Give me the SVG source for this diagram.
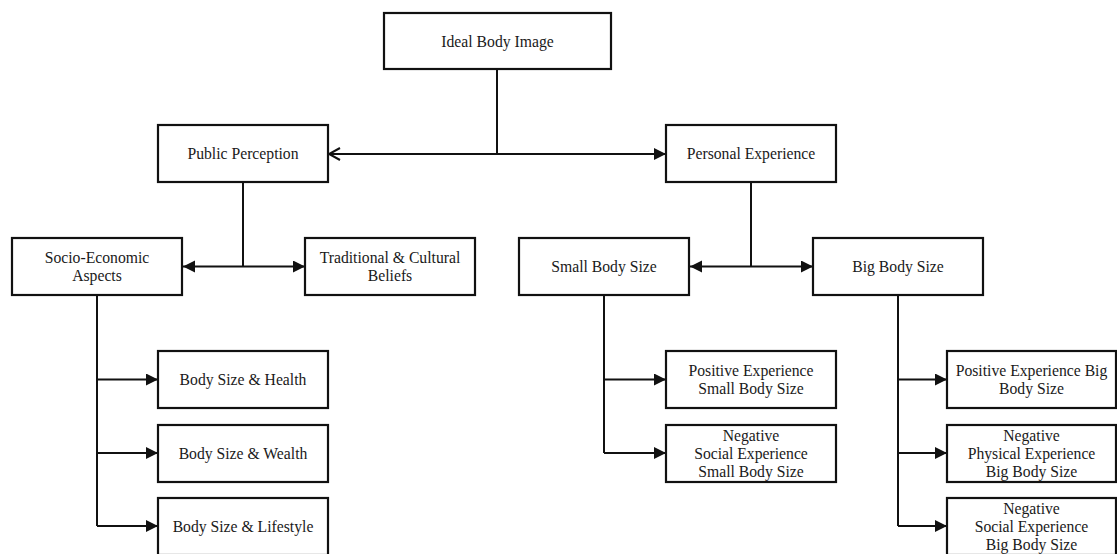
<svg xmlns="http://www.w3.org/2000/svg" width="1117" height="554" viewBox="0 0 1117 554">
<defs>
<style>
.box{fill:#fff;stroke:#111;stroke-width:2.2}
.t{font-family:"Liberation Serif","Times New Roman",serif;font-size:15.7px;fill:#1a1a1a;text-anchor:middle}
.c{fill:none;stroke:#111;stroke-width:2}
.ae{marker-end:url(#fa)}
.ab{marker-end:url(#fa);marker-start:url(#fa)}
</style>
<marker id="fa" markerUnits="userSpaceOnUse" markerWidth="13" markerHeight="13" refX="12" refY="6" orient="auto-start-reverse">
<path d="M0,0 L12,6 L0,12 Z" fill="#111"/>
</marker>
<marker id="oa" markerUnits="userSpaceOnUse" markerWidth="14" markerHeight="14" refX="12" refY="7" orient="auto-start-reverse">
<path d="M1,1 L12,7 L1,13" fill="none" stroke="#111" stroke-width="2"/>
</marker>
</defs>
<rect width="1117" height="554" fill="#fff"/>
<g id="connectors">
<path class="c" d="M497,69 V154"/>
<path class="c" d="M329,154 H666" marker-start="url(#oa)" marker-end="url(#fa)"/>
<path class="c" d="M243,182 V266.5"/>
<path class="c ab" d="M183,266.5 H305"/>
<path class="c" d="M751,182 V266.5"/>
<path class="c ab" d="M690,266.5 H813"/>
<path class="c" d="M97,295 V526"/>
<path class="c ae" d="M97,379.5 H158"/>
<path class="c ae" d="M97,453 H158"/>
<path class="c ae" d="M97,526 H158"/>
<path class="c" d="M604,295 V453"/>
<path class="c ae" d="M604,379.5 H666"/>
<path class="c ae" d="M604,453 H666"/>
<path class="c" d="M898,295 V526"/>
<path class="c ae" d="M898,379.5 H947"/>
<path class="c ae" d="M898,453 H947"/>
<path class="c ae" d="M898,526 H947"/>
</g>
<g id="ideal"><rect class="box" x="384" y="13" width="227" height="56"/><text class="t" x="497.5" y="47">Ideal Body Image</text></g>
<g id="public"><rect class="box" x="158" y="125" width="170" height="57"/><text class="t" x="243" y="159">Public Perception</text></g>
<g id="personal"><rect class="box" x="666" y="125" width="170" height="57"/><text class="t" x="751" y="159">Personal Experience</text></g>
<g id="socio"><rect class="box" x="12" y="238" width="170" height="57"/><text class="t" x="97" y="262.5">Socio-Economic</text><text class="t" x="97" y="281">Aspects</text></g>
<g id="traditional"><rect class="box" x="305" y="238" width="170" height="57"/><text class="t" x="390" y="262.5">Traditional &amp; Cultural</text><text class="t" x="390" y="281">Beliefs</text></g>
<g id="small"><rect class="box" x="519" y="238" width="170" height="57"/><text class="t" x="604" y="272">Small Body Size</text></g>
<g id="big"><rect class="box" x="813" y="238" width="170" height="57"/><text class="t" x="898" y="272">Big Body Size</text></g>
<g id="health"><rect class="box" x="158" y="351" width="170" height="57"/><text class="t" x="243" y="385">Body Size &amp; Health</text></g>
<g id="wealth"><rect class="box" x="158" y="425" width="170" height="57"/><text class="t" x="243" y="458.5">Body Size &amp; Wealth</text></g>
<g id="lifestyle"><rect class="box" x="158" y="498" width="170" height="57"/><text class="t" x="243" y="531.5">Body Size &amp; Lifestyle</text></g>
<g id="pos-small"><rect class="box" x="666" y="351" width="170" height="57"/><text class="t" x="751" y="375.5">Positive Experience</text><text class="t" x="751" y="394">Small Body Size</text></g>
<g id="neg-small"><rect class="box" x="666" y="425" width="170" height="57"/><text class="t" x="751" y="440.5">Negative</text><text class="t" x="751" y="458.8">Social Experience</text><text class="t" x="751" y="477">Small Body Size</text></g>
<g id="pos-big"><rect class="box" x="947" y="351" width="169" height="57"/><text class="t" x="1031.5" y="375.5">Positive Experience Big</text><text class="t" x="1031.5" y="394">Body Size</text></g>
<g id="neg-phys-big"><rect class="box" x="947" y="425" width="169" height="57"/><text class="t" x="1031.5" y="440.5">Negative</text><text class="t" x="1031.5" y="458.8">Physical Experience</text><text class="t" x="1031.5" y="477">Big Body Size</text></g>
<g id="neg-soc-big"><rect class="box" x="947" y="498" width="169" height="57"/><text class="t" x="1031.5" y="513.5">Negative</text><text class="t" x="1031.5" y="531.8">Social Experience</text><text class="t" x="1031.5" y="550">Big Body Size</text></g>
</svg>
